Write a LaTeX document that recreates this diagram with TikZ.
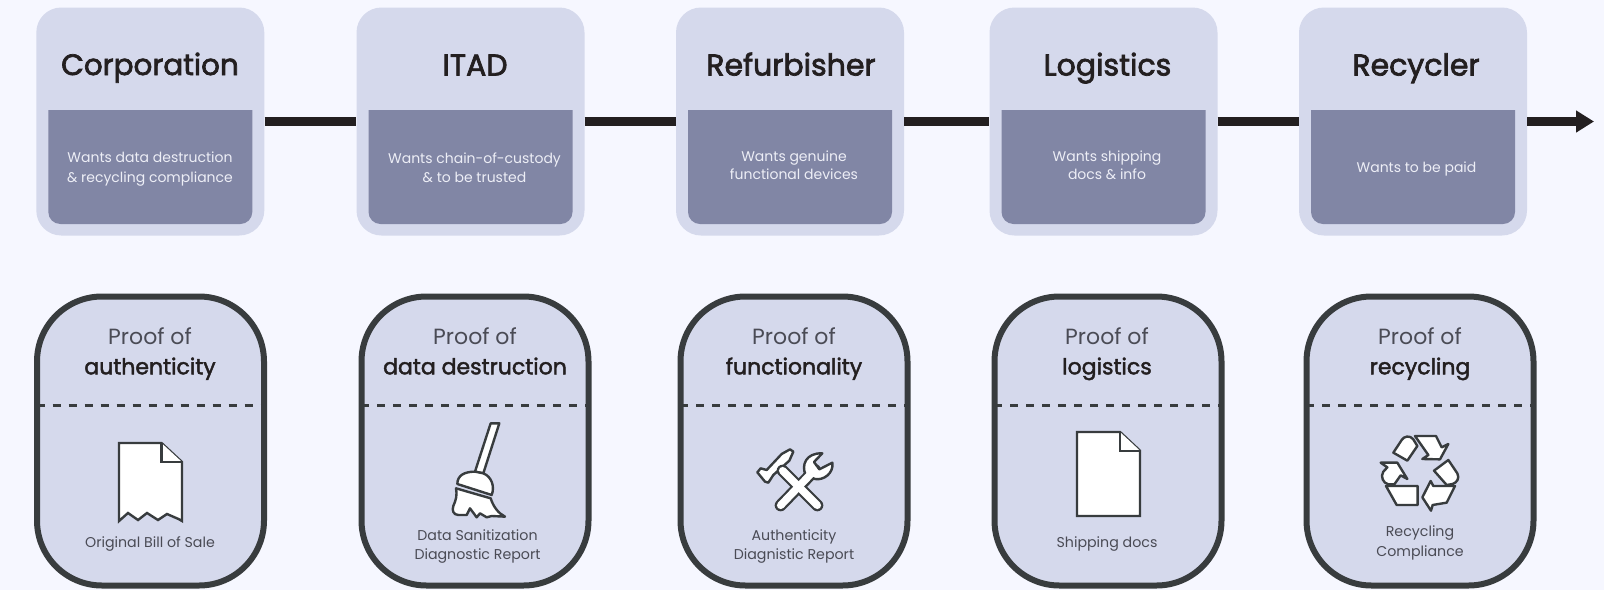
\documentclass[tikz,border=0pt]{standalone}
\usepackage{fontspec}
\usetikzlibrary{arrows.meta}
\setmainfont{Poppins}
\newfontfamily\titlefont[FakeBold=2.4]{Poppins}
\newfontfamily\semifont[FakeBold=2.0]{Poppins}
\definecolor{bgc}{HTML}{F6F7FF}
\definecolor{boxc}{HTML}{D5D9EC}
\definecolor{innerc}{HTML}{8186A5}
\definecolor{borderc}{HTML}{383C3E}
\definecolor{inkc}{HTML}{231F20}
\definecolor{softc}{HTML}{4A4B55}
\definecolor{pale}{HTML}{EDEEF6}
\tikzset{
  topbox/.style={fill=boxc,rounded corners=25pt,minimum width=228pt,minimum height=228pt,inner sep=0pt},
  proofbox/.style={fill=boxc,draw=borderc,line width=6pt,rounded corners=65pt,minimum width=227pt,minimum height=289pt,inner sep=0pt},
  titletext/.style={font=\titlefont\fontsize{30}{34}\selectfont,text=inkc,inner sep=0pt,anchor=base},
  titlesmall/.style={font=\titlefont\fontsize{29.4}{34}\selectfont,text=inkc,inner sep=0pt,anchor=base},
  desctext/.style={font=\fontsize{14}{19.5}\selectfont,text=pale,align=center,inner sep=0pt},
  desctight/.style={font=\fontsize{14}{18.4}\selectfont,text=pale,align=center,inner sep=0pt},
  prooftext/.style={font=\fontsize{22}{30}\selectfont,text=softc,inner sep=0pt,anchor=base},
  proofbold/.style={font=\semifont\fontsize{22}{30}\selectfont,text=inkc,inner sep=0pt,anchor=base},
  labeltext/.style={font=\fontsize{14.2}{19.4}\selectfont,text=softc,align=center,inner sep=0pt},
  flow/.style={draw=inkc,line width=9.5pt},
  icon/.style={fill=white,draw=borderc,line width=2.4pt,line join=round},
  divider/.style={draw=borderc,line width=3pt,dash pattern=on 8pt off 8pt},
}
\newcommand{\innerbox}[1]{%
  \fill[innerc] (#1-102,110) -- (#1+102,110) -- (#1+102,212)
    arc[start angle=0,end angle=90,radius=12] -- (#1-90,224)
    arc[start angle=90,end angle=180,radius=12] -- cycle;}
\newcommand{\proofdivider}[1]{\draw[divider] (#1-114,405) -- (#1+114,405);}
\begin{document}
\begin{tikzpicture}[x=1pt,y=-1pt]
\useasboundingbox[fill=bgc] (0,0) rectangle (1604,590);
% top boxes
\node[topbox] (corp) at (150.3,121.5) {};
\node[topbox] (itad) at (470.5,121.5) {};
\node[topbox] (refurb) at (790,121.5) {};
\node[topbox] (logi) at (1103.5,121.5) {};
\node[topbox] (recy) at (1413,121.5) {};
\coordinate (flowend) at (1594,121.5);
\draw[flow] (corp) -- (itad);
\draw[flow] (itad) -- (refurb);
\draw[flow] (refurb) -- (logi);
\draw[flow] (logi) -- (recy);
\draw[flow,-{Triangle[length=18pt,width=21pt]}] (recy) -- (flowend);
\innerbox{150.3}\innerbox{470.5}\innerbox{790}\innerbox{1103.5}\innerbox{1413}
\node[titlesmall] (t1) at (150,75) {Corporation};
\node[titletext] (t2) at (475,75.5) {ITAD};
\node[titletext] (t3) at (791,75.5) {Refurbisher};
\node[titletext] (t4) at (1107.5,75.5) {Logistics};
\node[titletext] (t5) at (1416,75.5) {Recycler};
\node[desctext] (d1) at (150,169) {Wants data destruction\\\& recycling compliance};
\node[desctext] (d2) at (474.5,167.5) {Wants chain-of-custody\\\& to be trusted};
\node[desctight] (d3) at (794,165.5) {Wants genuine\\functional devices};
\node[desctight] (d4) at (1107,165.5) {Wants shipping\\docs \& info};
\node[desctext] (d5) at (1416.5,169) {Wants to be paid};
% proof boxes
\node[proofbox] (p1) at (150.5,441) {};
\node[proofbox] (p2) at (475,441) {};
\node[proofbox] (p3) at (794,441) {};
\node[proofbox] (p4) at (1108,441) {};
\node[proofbox] (p5) at (1420,441) {};
\proofdivider{150.5}\proofdivider{475}\proofdivider{794}\proofdivider{1108}\proofdivider{1420}
\node[prooftext] (a1) at (150,344.5) {Proof of};
\node[proofbold] (b1) at (150,374.3) {authenticity};
\node[prooftext] (a2) at (475,344.5) {Proof of};
\node[proofbold] (b2) at (475,374.3) {data destruction};
\node[prooftext] (a3) at (794,344.5) {Proof of};
\node[proofbold] (b3) at (794,374.3) {functionality};
\node[prooftext] (a4) at (1107,344.5) {Proof of};
\node[proofbold] (b4) at (1107,374.3) {logistics};
\node[prooftext] (a5) at (1420,344.5) {Proof of};
\node[proofbold] (b5) at (1420,374.3) {recycling};
\node[labeltext] (l1) at (150,544) {Original Bill of Sale};
\node[labeltext] (l2) at (477.5,546.5) {Data Sanitization\\Diagnostic Report};
\node[labeltext] (l3) at (794,546.5) {Authenticity\\Diagnistic Report};
\node[labeltext] (l4) at (1107,544) {Shipping docs};
\node[labeltext] (l5) at (1420,543) {Recycling\\Compliance};
% bill icon
\draw[icon,line join=miter] (119,443) -- (161.5,443) -- (182,462) -- (182,521) -- (178.5,519) -- (167,514) -- (158,520) -- (147,513) -- (138,520) -- (128,513) -- (119,521) -- cycle;
\draw[icon,line join=miter] (161.5,443) -- (161.5,462) -- (182,462);
% document icon
\draw[icon,line join=miter] (1077,432) -- (1120,432) -- (1140,450.7) -- (1140,516) -- (1077,516) -- cycle;
\draw[icon,line join=miter] (1120,432) -- (1120,450.7) -- (1140,450.7);
% broom icon
\begin{scope}[shift={(420,410)},x=.3333pt,y=-.3333pt]
\draw[icon] (212,40) -- (238,40) -- (190,190) -- (165,185) -- cycle;
\draw[icon] (165,185) .. controls (135,185) and (112,195) .. (112,222) -- (215,255) .. controls (225,230) and (215,200) .. (190,190) -- cycle;
\draw[icon] (108,235) -- (212,265) .. controls (220,290) and (235,310) .. (255,320) -- (215,318) -- (200,322) -- (180,310) -- (170,322) -- (150,295) -- (140,315) -- (115,315) .. controls (100,315) and (95,300) .. (100,288) .. controls (108,270) and (112,255) .. (108,235) -- cycle;
\end{scope}
% tools icon
\begin{scope}[shift={(740,430)},x=.3333pt,y=-.3333pt]
\draw[icon] (52,127) -- (62,115) -- (80,120) -- (125,72) -- (150,58) -- (160,65) -- (148,92) -- (100,135) -- (85,158) -- (75,155) -- cycle;
\draw[borderc,line width=12pt,line cap=round] (128,122) -- (232,226);
\draw[borderc,line width=12pt,line cap=round] (122,226) -- (225,120);
\draw[icon] (197,135) .. controls (183,105) and (198,68) .. (247,70) -- (222,96) -- (238,118) -- (277,98) .. controls (282,130) and (250,152) .. (225,147) -- cycle;
\draw[white,line width=7.5pt,line cap=round] (128,122) -- (232,226);
\draw[white,line width=7.5pt,line cap=round] (122,226) -- (222,122);
\end{scope}
% recycling icon
\begin{scope}[shift={(1360,420)},x=.3333pt,y=-.3333pt]
\draw[icon] (100,98) -- (125,60) .. controls (132,48) and (150,45) .. (160,58) -- (172,78) -- (142,122) -- cycle;
\draw[icon] (165,48) -- (228,48) -- (245,82) -- (265,72) -- (240,118) -- (187,117) -- (205,105) -- cycle;
\draw[icon] (222,152) -- (265,120) -- (292,160) .. controls (300,175) and (290,188) .. (278,192) -- (260,195) -- cycle;
\draw[icon] (285,198) -- (260,248) -- (218,255) -- (213,272) -- (187,232) -- (212,183) -- (220,198) -- cycle;
\draw[icon] (78,198) -- (173,198) -- (173,255) -- (110,255) -- cycle;
\draw[icon] (62,128) -- (112,128) -- (142,177) -- (122,166) -- (103,193) -- (85,193) .. controls (70,190) and (60,170) .. (70,155) -- (82,142) -- cycle;
\end{scope}
\end{tikzpicture}
\end{document}
